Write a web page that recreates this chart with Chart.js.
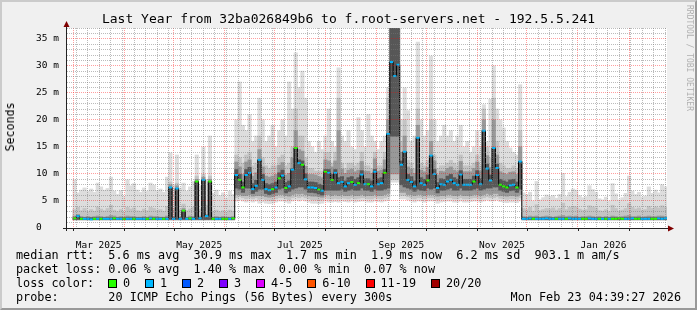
<!DOCTYPE html>
<html>
<head>
<meta charset="utf-8">
<title>Last Year - f.root-servers.net</title>
<script src="https://cdn.jsdelivr.net/npm/chart.js@4.4.1/dist/chart.umd.min.js"></script>
<style>
  body { margin: 0; background: #f0f0f0; }
  #wrap { position: relative; width: 697px; height: 310px; background: #f0f0f0; overflow: hidden;
          font-family: "DejaVu Sans Mono", monospace; color: #000; }
  #frame { position: absolute; left: 0; top: 0; width: 697px; height: 310px; box-sizing: border-box;
           border: 2px solid; border-color: #cbcbcb #999999 #999999 #cbcbcb; pointer-events: none; }
  #chart { position: absolute; left: 0; top: 0; }
  .txt { position: absolute; white-space: pre; font-size: 11.8px; line-height: 14px; }
  #title { left: 0; width: 697px; top: 11px; text-align: center; font-size: 13px; line-height: 16px; }
  #ylab { left: 9.5px; top: 127px; transform: translate(-50%, -50%) rotate(-90deg); font-size: 11.6px; }
  #brand { position: absolute; left: 685px; top: 5px; writing-mode: vertical-rl; font-size: 8px;
           line-height: 9px; color: #b0b0b0; white-space: pre; }
  #lossItems { position: absolute; left: 108px; top: 276px; height: 14px; display: flex; align-items: center;
               font-size: 11.8px; white-space: pre; }
  .item { display: flex; align-items: center; margin-right: 14.9px; }
  .box { display: inline-block; width: 7px; height: 7px; border: 1px solid #000; margin-right: 6px; }
</style>
</head>
<body>
<div id="wrap">
  <canvas id="chart" width="697" height="310"></canvas>
  <div id="title" class="txt">Last Year from 32ba026849b6 to f.root-servers.net - 192.5.5.241</div>
  <div id="ylab" class="txt">Seconds</div>
  <div id="brand">RRDTOOL / TOBI OETIKER</div>
  <div class="txt" style="left:16px;top:248px">median rtt:  5.6 ms avg  30.9 ms max  1.7 ms min  1.9 ms now  6.2 ms sd  903.1 m am/s</div>
  <div class="txt" style="left:16px;top:262px">packet loss: 0.06 % avg  1.40 % max  0.00 % min  0.07 % now</div>
  <div class="txt" style="left:16px;top:276px">loss color:</div>
  <div id="lossItems"></div>
  <div class="txt" style="left:16px;top:290px">probe:       20 ICMP Echo Pings (56 Bytes) every 300s</div>
  <div class="txt" style="right:16px;top:290px">Mon Feb 23 04:39:27 2026</div>
  <div id="frame"></div>
</div>
<script>
// one bin every 2 days from Mar 1 2025, values in ms
var medianMs = [
  1.8, 2.2, 1.7, 1.7, 1.7, 1.6, 1.7, 1.7, 1.7, 1.7,
  1.7, 1.7, 1.8, 1.7, 1.7, 1.7, 1.7, 1.7, 1.7, 1.7,
  1.7, 1.7, 1.7, 1.8, 1.7, 1.7, 1.7, 1.7, 1.7, 7.5,
  1.7, 7.3, 1.7, 3.2, 1.7, 1.8, 1.7, 8.6, 1.8, 8.9,
  2.2, 8.6, 1.7, 1.7, 1.7, 1.7, 1.7, 1.7, 1.8, 9.8,
  8.9, 7.5, 9.8, 10.2, 7.2, 7.8, 12.6, 8.9, 7.2, 7.0,
  7.2, 7.5, 9.2, 9.7, 7.4, 7.7, 10.8, 14.8, 12.0, 11.7,
  9.0, 7.5, 7.5, 7.4, 7.1, 6.9, 10.4, 10.2, 8.9, 10.2,
  8.3, 8.5, 7.7, 8.3, 8.5, 8.0, 8.3, 9.9, 8.1, 8.1,
  7.7, 10.4, 8.1, 8.3, 10.2, 17.4, 30.7, 28.1, 30.2, 11.7,
  14.1, 8.9, 8.5, 7.7, 16.7, 8.3, 8.0, 8.8, 13.4, 10.0,
  7.4, 8.1, 8.0, 8.6, 8.9, 8.3, 8.0, 9.9, 8.0, 8.0,
  8.0, 8.6, 9.8, 8.1, 18.0, 11.0, 8.8, 14.8, 11.1, 8.0,
  7.7, 7.5, 7.9, 8.0, 7.5, 12.3, 1.7, 1.7, 1.8, 1.7,
  1.7, 1.7, 1.7, 1.8, 1.7, 1.7, 1.7, 1.7, 1.7, 1.7,
  1.8, 1.7, 1.7, 1.7, 1.7, 1.7, 1.8, 1.7, 1.7, 1.7,
  1.7, 1.7, 1.7, 1.7, 1.7, 1.8, 1.7, 1.7, 1.7, 1.8,
  1.7, 1.7, 1.7, 1.7, 1.7, 1.7, 1.7, 1.8, 1.7, 1.8
];
// lost pings per bin (0 or 1 of 20)
var lossCount = [
  0, 1, 0, 1, 1, 1, 0, 1, 0, 1,
  1, 1, 0, 1, 1, 0, 1, 1, 0, 1,
  1, 1, 0, 1, 0, 1, 1, 0, 1, 1,
  1, 1, 1, 0, 1, 0, 1, 0, 1, 1,
  1, 0, 0, 1, 1, 0, 0, 1, 0, 1,
  0, 0, 1, 1, 1, 1, 1, 1, 1, 1,
  0, 1, 0, 1, 0, 1, 1, 0, 1, 0,
  1, 1, 1, 1, 0, 1, 0, 1, 0, 1,
  1, 1, 1, 1, 0, 1, 0, 1, 1, 0,
  1, 1, 1, 1, 0, 1, 1, 1, 1, 1,
  1, 1, 1, 1, 1, 1, 1, 0, 1, 1,
  1, 1, 1, 1, 1, 1, 1, 1, 1, 1,
  1, 0, 1, 1, 1, 1, 1, 1, 1, 0,
  0, 0, 1, 1, 0, 1, 1, 1, 1, 0,
  1, 1, 1, 1, 1, 1, 0, 1, 1, 0,
  1, 1, 1, 1, 0, 0, 1, 1, 1, 0,
  1, 0, 1, 0, 0, 0, 0, 1, 1, 1,
  0, 0, 1, 1, 1, 0, 0, 1, 1, 1
];
// outer smoke (slowest / fastest pings)
var smokeMax = [
  8.9, 6.5, 7.0, 7.4, 6.8, 7.2, 6.6, 8.3, 7.6, 7.0,
  7.3, 9.4, 6.8, 6.2, 6.9, 5.8, 8.9, 7.8, 8.2, 7.0,
  6.6, 7.4, 6.8, 8.3, 7.9, 6.9, 7.2, 6.6, 9.4, 13.9,
  8.0, 13.5, 7.4, 8.3, 6.8, 7.6, 8.6, 13.5, 7.8, 15.0,
  9.0, 17.0, 6.4, 7.0, 6.0, 6.5, 5.6, 6.8, 6.2, 20,
  27, 19, 18, 21, 16, 17, 24, 20, 16, 17,
  19, 15, 18, 20, 17, 27, 22, 32.4, 26, 29,
  24, 16, 15, 14, 16, 14.5, 17, 22, 16, 15,
  29.6, 17, 16, 18, 15, 14.5, 20.4, 18, 15, 21,
  17, 16, 14.5, 16, 17, 26, 38, 38, 38, 20,
  25.9, 21.7, 16, 17, 34.4, 20, 17, 18, 31.8, 20,
  16, 17, 19, 17, 18, 16, 17, 19, 15, 16,
  14, 15, 18, 15, 22.8, 16, 23.8, 30, 22, 20,
  18.5, 16, 14.8, 14, 13.5, 26.5, 6.5, 6.2, 6.6, 5.0,
  8.6, 5.2, 5.6, 6.1, 5.8, 6.0, 5.5, 6.2, 10.1, 5.8,
  6.6, 7.2, 7.0, 6.0, 5.6, 5.8, 7.8, 7.1, 6.6, 5.4,
  5.2, 5.7, 5.0, 8.2, 6.3, 5.2, 5.6, 6.4, 9.6, 6.8,
  6.2, 6.6, 5.7, 5.9, 7.6, 6.4, 7.0, 6.5, 8.0, 7.6
];
var smokeMin = [
  1.4, 1.4, 1.4, 1.4, 1.4, 1.4, 1.4, 1.4, 1.4, 1.4,
  1.4, 1.4, 1.4, 1.4, 1.4, 1.4, 1.4, 1.4, 1.4, 1.4,
  1.4, 1.4, 1.4, 1.4, 1.4, 1.4, 1.4, 1.4, 1.4, 1.4,
  1.4, 1.4, 1.4, 1.4, 1.4, 1.4, 1.4, 1.4, 1.4, 1.4,
  1.4, 1.4, 1.4, 1.4, 1.4, 1.4, 1.4, 1.4, 1.4, 5.0,
  5.2, 5.0, 4.8, 5.0, 4.8, 5.0, 4.6, 4.8, 4.6, 4.5,
  4.6, 4.8, 5.0, 5.0, 4.8, 4.6, 5.0, 5.2, 5.0, 5.2,
  5.0, 4.8, 4.6, 4.6, 4.5, 4.6, 5.0, 4.8, 4.8, 4.9,
  4.8, 5.0, 4.9, 4.8, 5.0, 4.8, 4.9, 5.0, 5.0, 4.8,
  4.8, 5.0, 4.9, 4.8, 5.0, 5.2, 8.5, 8.5, 8.5, 5.4,
  5.4, 5.2, 5.0, 4.8, 5.0, 5.0, 4.8, 5.0, 5.0, 5.0,
  4.6, 4.8, 4.9, 5.0, 5.0, 4.8, 4.8, 5.0, 4.8, 4.8,
  4.9, 5.0, 5.0, 4.8, 5.0, 5.2, 5.0, 5.0, 5.2, 4.9,
  4.8, 4.7, 4.8, 4.8, 4.7, 5.0, 1.4, 1.4, 1.4, 1.4,
  1.4, 1.4, 1.4, 1.4, 1.4, 1.4, 1.4, 1.4, 1.4, 1.4,
  1.4, 1.4, 1.4, 1.4, 1.4, 1.4, 1.4, 1.4, 1.4, 1.4,
  1.4, 1.4, 1.4, 1.4, 1.4, 1.4, 1.4, 1.4, 1.4, 1.4,
  1.4, 1.4, 1.4, 1.4, 1.4, 1.4, 1.4, 1.4, 1.4, 1.4
];
// second smoke band
var paleHi = [
  3.4, 3.8, 3.2, 3.6, 3.0, 3.4, 3.1, 3.9, 3.5, 3.2,
  3.6, 4.2, 3.3, 3.0, 3.4, 2.9, 3.8, 3.5, 3.7, 3.2,
  3.1, 3.5, 3.2, 3.8, 3.6, 3.3, 3.4, 3.1, 4.0, 8.5,
  3.6, 8.3, 3.4, 4.4, 3.2, 3.5, 3.8, 9.6, 3.5, 9.9,
  4.2, 9.6, 3.1, 3.3, 3.0, 3.2, 2.9, 3.3, 3.1, 13.5,
  13, 12, 13.5, 14, 11.5, 12, 17, 13, 11.5, 11,
  11.5, 11.5, 13, 13.5, 11.5, 12, 15, 22, 17, 17,
  13, 11, 11, 10.5, 10.5, 10.5, 14, 14, 12, 14,
  24, 12, 11, 12, 12, 11.5, 12, 14, 11.5, 11.5,
  11, 14, 11.5, 11.5, 14, 24, 38, 38, 38, 16,
  20, 12.5, 12, 11, 22, 12, 11.5, 12.5, 20, 13.5,
  11, 11.5, 11.5, 12, 12.5, 12, 11.5, 13.5, 11.5, 11.5,
  11.5, 12, 13.5, 11.5, 22, 15, 13, 24, 16, 12,
  11.5, 11, 11, 11.5, 11, 18, 3.6, 3.4, 3.8, 3.1,
  4.3, 3.2, 3.4, 3.6, 3.5, 3.7, 3.3, 3.6, 4.6, 3.4,
  3.8, 4.0, 3.9, 3.5, 3.3, 3.4, 4.1, 3.9, 3.7, 3.2,
  3.1, 3.4, 3.0, 4.2, 3.6, 3.1, 3.3, 3.6, 4.5, 3.8,
  3.5, 3.7, 3.3, 3.4, 4.0, 3.6, 3.9, 3.7, 4.1, 3.9
];
var paleLo = [
  1.5, 1.5, 1.5, 1.5, 1.5, 1.5, 1.5, 1.5, 1.5, 1.5,
  1.5, 1.5, 1.5, 1.5, 1.5, 1.5, 1.5, 1.5, 1.5, 1.5,
  1.5, 1.5, 1.5, 1.5, 1.5, 1.5, 1.5, 1.5, 1.5, 1.5,
  1.5, 1.5, 1.5, 1.5, 1.5, 1.5, 1.5, 1.5, 1.5, 1.5,
  1.5, 1.5, 1.5, 1.5, 1.5, 1.5, 1.5, 1.5, 1.5, 5.6,
  5.8, 5.6, 5.4, 5.6, 5.4, 5.6, 5.3, 5.4, 5.2, 5.1,
  5.2, 5.4, 5.6, 5.6, 5.4, 5.2, 5.6, 5.8, 5.6, 5.8,
  5.6, 5.4, 5.2, 5.2, 5.1, 5.2, 5.6, 5.4, 5.4, 5.5,
  5.4, 5.6, 5.5, 5.4, 5.6, 5.4, 5.5, 5.6, 5.6, 5.4,
  5.4, 5.6, 5.5, 5.4, 5.6, 5.8, 9.0, 9.0, 9.0, 6.0,
  6.0, 5.8, 5.6, 5.4, 5.6, 5.6, 5.4, 5.6, 5.6, 5.6,
  5.2, 5.4, 5.5, 5.6, 5.6, 5.4, 5.4, 5.6, 5.4, 5.4,
  5.5, 5.6, 5.6, 5.4, 5.6, 5.8, 5.6, 5.6, 5.8, 5.5,
  5.4, 5.3, 5.4, 5.4, 5.3, 5.6, 1.5, 1.5, 1.5, 1.5,
  1.5, 1.5, 1.5, 1.5, 1.5, 1.5, 1.5, 1.5, 1.5, 1.5,
  1.5, 1.5, 1.5, 1.5, 1.5, 1.5, 1.5, 1.5, 1.5, 1.5,
  1.5, 1.5, 1.5, 1.5, 1.5, 1.5, 1.5, 1.5, 1.5, 1.5,
  1.5, 1.5, 1.5, 1.5, 1.5, 1.5, 1.5, 1.5, 1.5, 1.5
];
// third smoke band
var midHi = [
  2.2, 2.5, 2.1, 2.0, 2.1, 2.0, 2.1, 2.2, 2.1, 2.0,
  2.1, 2.3, 2.2, 2.0, 2.1, 2.0, 2.2, 2.1, 2.1, 2.0,
  2.0, 2.1, 2.0, 2.2, 2.1, 2.1, 2.0, 2.0, 2.2, 8.0,
  2.1, 7.8, 2.0, 3.6, 2.0, 2.2, 2.1, 9.0, 2.2, 9.4,
  2.5, 9.0, 2.0, 2.1, 2.0, 2.1, 2.0, 2.0, 2.1, 12.2,
  11.3, 9.9, 12.2, 12.6, 9.6, 10.2, 14.5, 11.3, 9.6, 9.4,
  9.6, 9.9, 11.6, 12.1, 9.8, 10.1, 13.0, 18.0, 14.5, 14.2,
  11.4, 9.9, 9.9, 9.8, 9.5, 9.3, 12.6, 12.4, 11.3, 12.4,
  18.0, 10.9, 10.1, 10.7, 10.9, 10.4, 10.7, 12.3, 10.5, 10.5,
  10.1, 12.8, 10.5, 10.7, 12.6, 20.0, 38, 38, 38, 14.0,
  17.0, 11.3, 10.9, 10.1, 19.0, 10.7, 10.4, 11.2, 16.0, 12.4,
  9.8, 10.5, 10.4, 11.0, 11.3, 10.7, 10.4, 12.3, 10.4, 10.4,
  10.4, 11.0, 12.2, 10.5, 20.0, 13.4, 11.2, 20.0, 13.5, 10.4,
  10.1, 9.9, 10.3, 10.4, 9.9, 15.0, 2.1, 2.0, 2.2, 2.1,
  2.2, 2.0, 2.1, 2.2, 2.1, 2.0, 2.1, 2.2, 2.3, 2.1,
  2.2, 2.1, 2.2, 2.0, 2.1, 2.1, 2.2, 2.1, 2.0, 2.1,
  2.0, 2.1, 2.0, 2.2, 2.1, 2.0, 2.1, 2.2, 2.3, 2.1,
  2.1, 2.2, 2.0, 2.1, 2.2, 2.1, 2.1, 2.2, 2.2, 2.1
];
var midLo = [
  1.55, 1.55, 1.55, 1.55, 1.55, 1.55, 1.55, 1.55, 1.55, 1.55,
  1.55, 1.55, 1.55, 1.55, 1.55, 1.55, 1.55, 1.55, 1.55, 1.55,
  1.55, 1.55, 1.55, 1.55, 1.55, 1.55, 1.55, 1.55, 1.55, 1.55,
  1.55, 1.55, 1.55, 1.55, 1.55, 1.55, 1.55, 1.55, 1.55, 1.55,
  1.55, 1.55, 1.55, 1.55, 1.55, 1.55, 1.55, 1.55, 1.55, 6.2,
  6.2, 6.0, 6.0, 6.2, 5.9, 6.0, 6.0, 6.0, 5.8, 5.7,
  5.8, 6.0, 6.2, 6.2, 6.0, 5.9, 6.2, 6.4, 6.3, 6.4,
  6.2, 6.0, 5.9, 5.9, 5.8, 5.7, 6.2, 6.2, 6.0, 6.2,
  6.0, 6.2, 6.0, 6.0, 6.2, 6.0, 6.0, 6.2, 6.0, 6.0,
  6.0, 6.2, 6.0, 6.0, 6.2, 6.4, 10.0, 10.0, 10.0, 6.6,
  6.6, 6.2, 6.2, 6.0, 6.2, 6.2, 6.0, 6.2, 6.2, 6.2,
  5.9, 6.0, 6.0, 6.2, 6.2, 6.0, 6.0, 6.2, 6.0, 6.0,
  6.0, 6.2, 6.2, 6.0, 6.2, 6.4, 6.2, 6.4, 6.4, 6.0,
  6.0, 5.9, 6.0, 6.0, 5.9, 6.2, 1.55, 1.55, 1.55, 1.55,
  1.55, 1.55, 1.55, 1.55, 1.55, 1.55, 1.55, 1.55, 1.55, 1.55,
  1.55, 1.55, 1.55, 1.55, 1.55, 1.55, 1.55, 1.55, 1.55, 1.55,
  1.55, 1.55, 1.55, 1.55, 1.55, 1.55, 1.55, 1.55, 1.55, 1.55,
  1.55, 1.55, 1.55, 1.55, 1.55, 1.55, 1.55, 1.55, 1.55, 1.55
];
// dense core around the median
var coreHi = [
  1.9, 2.2, 1.9, 1.9, 1.9, 1.9, 1.9, 1.9, 1.9, 1.9,
  1.9, 1.9, 1.9, 1.9, 1.9, 1.9, 1.9, 1.9, 1.9, 1.9,
  1.9, 1.9, 1.9, 1.9, 1.9, 1.9, 1.9, 1.9, 1.9, 7.5,
  1.9, 7.3, 1.9, 3.2, 1.9, 1.9, 1.9, 8.6, 1.9, 8.9,
  2.2, 8.6, 1.9, 1.9, 1.9, 1.9, 1.9, 1.9, 1.9, 10.8,
  9.9, 8.5, 10.8, 11.2, 8.2, 8.8, 12.6, 9.9, 8.2, 8.0,
  8.2, 8.5, 10.2, 10.7, 8.4, 8.7, 11.0, 14.8, 12.6, 12.4,
  10.0, 8.5, 8.5, 8.4, 8.1, 7.9, 10.8, 10.8, 9.9, 10.8,
  9.3, 9.5, 8.7, 9.3, 9.5, 9.0, 9.3, 10.6, 9.1, 9.1,
  8.7, 10.8, 9.1, 9.3, 10.8, 17.4, 38, 38, 38, 12.4,
  14.1, 9.9, 9.5, 8.7, 16.7, 9.3, 9.0, 9.8, 13.4, 10.8,
  8.4, 9.1, 9.0, 9.6, 9.9, 9.3, 9.0, 10.6, 9.0, 9.0,
  9.0, 9.6, 10.6, 9.1, 18.0, 11.8, 9.8, 14.8, 11.8, 9.0,
  8.7, 8.5, 8.9, 9.0, 8.5, 12.3, 1.9, 1.9, 1.9, 1.9,
  1.9, 1.9, 1.9, 1.9, 1.9, 1.9, 1.9, 1.9, 1.9, 1.9,
  1.9, 1.9, 1.9, 1.9, 1.9, 1.9, 1.9, 1.9, 1.9, 1.9,
  1.9, 1.9, 1.9, 1.9, 1.9, 1.9, 1.9, 1.9, 1.9, 1.9,
  1.9, 1.9, 1.9, 1.9, 1.9, 1.9, 1.9, 1.9, 1.9, 1.9
];
var coreLo = [
  1.6, 1.6, 1.6, 1.6, 1.6, 1.6, 1.6, 1.6, 1.6, 1.6,
  1.6, 1.6, 1.6, 1.6, 1.6, 1.6, 1.6, 1.6, 1.6, 1.6,
  1.6, 1.6, 1.6, 1.6, 1.6, 1.6, 1.6, 1.6, 1.6, 1.6,
  1.6, 1.6, 1.6, 1.6, 1.6, 1.6, 1.6, 1.6, 1.6, 1.6,
  1.6, 1.6, 1.6, 1.6, 1.6, 1.6, 1.6, 1.6, 1.6, 7.4,
  7.2, 6.6, 7.4, 7.4, 6.4, 6.8, 7.2, 7.2, 6.4, 6.2,
  6.4, 6.6, 7.2, 7.4, 6.5, 6.8, 7.2, 7.4, 7.6, 7.6,
  7.2, 6.6, 6.6, 6.5, 6.3, 6.1, 7.0, 7.0, 7.0, 7.0,
  7.0, 7.2, 6.8, 7.0, 7.2, 7.0, 7.0, 7.4, 7.0, 7.0,
  6.8, 7.2, 7.0, 7.0, 7.2, 7.4, 17, 17, 17, 8.0,
  7.6, 7.4, 7.2, 6.8, 7.2, 7.0, 6.9, 7.4, 7.2, 7.4,
  6.5, 7.0, 7.0, 7.2, 7.4, 7.0, 7.0, 7.4, 7.0, 7.0,
  7.0, 7.2, 7.4, 7.0, 7.2, 7.4, 7.4, 7.6, 7.6, 7.0,
  6.8, 6.6, 6.9, 7.0, 6.6, 7.2, 1.6, 1.6, 1.6, 1.6,
  1.6, 1.6, 1.6, 1.6, 1.6, 1.6, 1.6, 1.6, 1.6, 1.6,
  1.6, 1.6, 1.6, 1.6, 1.6, 1.6, 1.6, 1.6, 1.6, 1.6,
  1.6, 1.6, 1.6, 1.6, 1.6, 1.6, 1.6, 1.6, 1.6, 1.6,
  1.6, 1.6, 1.6, 1.6, 1.6, 1.6, 1.6, 1.6, 1.6, 1.6
];
var tickLabels = ["Mar 2025", "May 2025", "Jul 2025", "Sep 2025", "Nov 2025", "Jan 2026"];
var lossLegend = [["0", "#26ff00"], ["1", "#00b8ff"], ["2", "#0059ff"], ["3", "#7e00ff"],
                  ["4-5", "#dd00ff"], ["6-10", "#ff5500"], ["11-19", "#ff0000"], ["20/20", "#a10000"]];

// legend boxes
var itemsHtml = "";
lossLegend.forEach(function(l) {
    itemsHtml += '<span class="item"><span class="box" style="background:' + l[1] + '"></span>' + l[0] + '</span>';
});
document.getElementById("lossItems").innerHTML = itemsHtml;

// time axis in days since Feb 25 2025
var t0 = Date.UTC(2025, 1, 25);
function dayOf(y, m, d) { return (Date.UTC(y, m, d) - t0) / 864e5; }
var xMin = 0.36, xMax = 364;
var firstBin = dayOf(2025, 2, 1), binDays = 2;
var binX = medianMs.map(function(v, k) { return firstBin + binDays * (k + 0.5); });

var monthDays = [];
for (var m = 2; m <= 14; m++) monthDays.push(dayOf(2025, m, 1));
var labelDays = tickLabels.map(function(s, i) { return (monthDays[2 * i] + monthDays[2 * i + 1]) / 2; });
var gridDays = [];
for (var d = dayOf(2025, 2, 3); d < xMax; d += 7) {
    if (monthDays.indexOf(d) < 0) gridDays.push(d);
}
monthDays.forEach(function(md) { if (md < xMax) gridDays.push(md); });
gridDays.sort(function(a, b) { return a - b; });
var yGrid = [];
for (var v = 0; v <= 37; v++) yGrid.push(v);

var minorGrid = "rgba(120,120,120,0.5)";
var majorGrid = "rgba(255,0,0,0.38)";
var lossColors = lossLegend.map(function(l) { return l[1]; });

function band(lo, hi) {
    return lo.map(function(v, k) { return { x: binX[k], y: [v, hi[k]] }; });
}
var barOpts = { type: "bar", grouped: false, barPercentage: 1, categoryPercentage: 1,
                borderWidth: 0, inflateAmount: 0.4 };

var canvasBg = {
    id: "canvasBg",
    beforeDraw: function(chart) {
        var a = chart.chartArea, ctx = chart.ctx;
        ctx.save();
        ctx.fillStyle = "#ffffff";
        ctx.fillRect(a.left, a.top, a.right - a.left, a.bottom - a.top);
        ctx.restore();
    }
};

var axisArrows = {
    id: "axisArrows",
    afterDraw: function(chart) {
        var a = chart.chartArea, ctx = chart.ctx;
        var x0 = a.left - 0.5, y0 = a.bottom + 0.5;
        ctx.save();
        ctx.strokeStyle = "#222222";
        ctx.lineWidth = 1;
        ctx.beginPath();
        ctx.moveTo(x0, a.bottom + 3);
        ctx.lineTo(x0, a.top - 2);
        ctx.moveTo(a.left - 4, y0);
        ctx.lineTo(a.right + 2, y0);
        monthDays.forEach(function(md) {
            if (md < xMax) {
                var px = Math.round(chart.scales.xGrid.getPixelForValue(md)) + 0.5;
                ctx.moveTo(px, y0);
                ctx.lineTo(px, y0 + 2.5);
            }
        });
        ctx.stroke();
        ctx.fillStyle = "#7f0000";
        ctx.beginPath();
        ctx.moveTo(x0, a.top - 7);
        ctx.lineTo(x0 - 3, a.top - 1);
        ctx.lineTo(x0 + 3, a.top - 1);
        ctx.closePath();
        ctx.fill();
        ctx.beginPath();
        ctx.moveTo(a.right + 7, y0);
        ctx.lineTo(a.right + 1, y0 - 3);
        ctx.lineTo(a.right + 1, y0 + 3);
        ctx.closePath();
        ctx.fill();
        ctx.restore();
    }
};

Chart.defaults.font.family = "'DejaVu Sans Mono', monospace";
Chart.defaults.color = "#000";

new Chart(document.getElementById("chart").getContext("2d"), {
    type: "bar",
    data: {
        datasets: [
            Object.assign({}, barOpts, { data: band(smokeMin, smokeMax), backgroundColor: "#dddddd", order: 5 }),
            Object.assign({}, barOpts, { data: band(paleLo, paleHi), backgroundColor: "#c4c4c4", order: 4 }),
            Object.assign({}, barOpts, { data: band(midLo, midHi), backgroundColor: "#999999", order: 3 }),
            Object.assign({}, barOpts, { data: band(coreLo, coreHi), backgroundColor: "#575757", order: 2 }),
            {
                type: "line",
                data: medianMs.map(function(v, k) { return { x: binX[k], y: v }; }),
                stepped: "middle",
                borderColor: "#000000",
                borderWidth: 1,
                pointStyle: "line",
                pointRadius: 1.65,
                pointBorderWidth: 2,
                pointBorderColor: lossCount.map(function(n) { return lossColors[n]; }),
                order: 1
            }
        ]
    },
    options: {
        responsive: false,
        animation: false,
        devicePixelRatio: 1,
        events: [],
        layout: { padding: { top: 28, right: 30, left: 0, bottom: 0 } },
        plugins: { legend: { display: false }, title: { display: false }, tooltip: { enabled: false } },
        scales: {
            x: {
                type: "linear", position: "bottom", min: xMin, max: xMax, offset: false,
                afterBuildTicks: function(s) { s.ticks = labelDays.map(function(v) { return { value: v }; }); },
                afterFit: function(s) { s.height = 82; },
                grid: { display: false, offset: false },
                border: { display: false },
                ticks: { autoSkip: false, maxRotation: 0, padding: 4, font: { size: 9.5 },
                         callback: function(v, i) { return tickLabels[i]; } }
            },
            xGrid: {
                type: "linear", position: "bottom", min: xMin, max: xMax, offset: false,
                afterBuildTicks: function(s) { s.ticks = gridDays.map(function(v) { return { value: v }; }); },
                afterFit: function(s) { s.height = 0; },
                ticks: { display: false },
                border: { display: false, dash: [1, 1] },
                grid: { z: 1, offset: false, drawTicks: false, lineWidth: 1,
                        color: function(c) { return c.tick && monthDays.indexOf(c.tick.value) >= 0 ? majorGrid : minorGrid; } }
            },
            y: {
                type: "linear", min: 0, max: 37,
                afterBuildTicks: function(s) { s.ticks = yGrid.map(function(v) { return { value: v }; }); },
                afterFit: function(s) { s.width = 67; },
                border: { display: false, dash: [1, 1] },
                grid: { z: 1, drawTicks: false, lineWidth: 1,
                        color: function(c) { return c.tick && c.tick.value % 5 === 0 ? majorGrid : minorGrid; } },
                ticks: { autoSkip: false, padding: 8, font: { size: 9.5 },
                         callback: function(v) { return v % 5 ? "" : (v ? v + " m" : "0   "); } }
            }
        }
    },
    plugins: [canvasBg, axisArrows]
});
</script>
</body>
</html>
